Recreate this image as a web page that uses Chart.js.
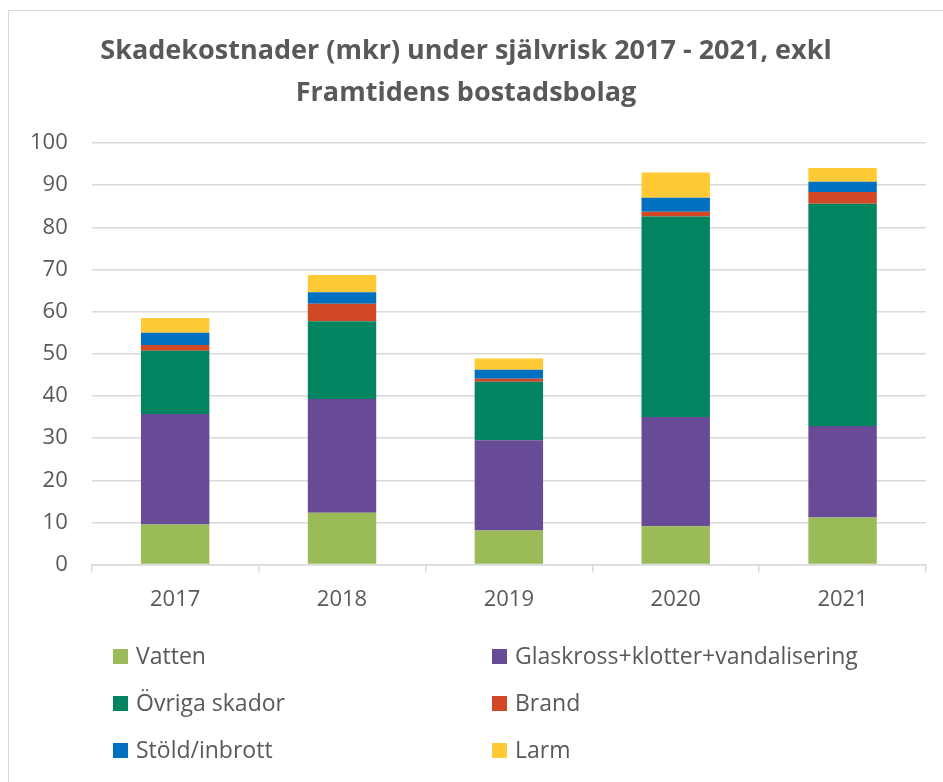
<!DOCTYPE html>
<html>
<head>
<meta charset="utf-8">
<script src="https://cdn.jsdelivr.net/npm/chart.js@4"></script>
<style>
  body { margin: 0; background: #fff; }
  #wrap { position: relative; width: 943px; height: 782px; overflow: hidden; }
  #frame { position: absolute; left: 8px; top: 10px; width: 960px; height: 800px; border: 1px solid #D9D9D9; box-sizing: border-box; }
  #myChart { position: absolute; left: 0; top: 0; }
</style>
</head>
<body>
<div id="wrap">
  <div id="frame"></div>
  <canvas id="myChart" width="943" height="782"></canvas>
</div>
<script>
const ctx = document.getElementById('myChart');

const years = ['2017', '2018', '2019', '2020', '2021'];
const vatten = [9.5, 12.3, 8.1, 9.1, 11.2];
const glaskross = [26.2, 27.0, 21.4, 25.9, 21.7];
const ovriga = [15.0, 18.4, 13.9, 47.6, 52.7];
const brand = [1.4, 4.2, 0.7, 1.1, 2.8];
const stold = [2.9, 2.7, 2.1, 3.3, 2.4];
const larm = [3.5, 4.1, 2.7, 6.0, 3.3];
const yTicks = [0, 10, 20, 30, 40, 50, 60, 70, 80, 90, 100];

const grey = '#595959';
const fontFam = '"Open Sans", sans-serif';

// legend in two columns, drawn under the chart
const twoColLegend = {
  id: 'twoColLegend',
  afterDraw(chart) {
    const c = chart.ctx;
    const sets = chart.data.datasets;
    c.save();
    c.font = '23px ' + fontFam;
    c.textBaseline = 'middle';
    sets.forEach((ds, i) => {
      const col = i % 2;
      const row = Math.floor(i / 2);
      const x = col === 0 ? 113 : 492;
      const y = 656 + row * 47;
      c.fillStyle = ds.backgroundColor;
      c.fillRect(x, y - 7, 15, 15);
      c.fillStyle = grey;
      c.fillText(ds.label, x + 23, y + 1);
    });
    c.restore();
  }
};

let t = {
  type: 'bar',
  data: {
    labels: years,
    datasets: [
      { label: 'Vatten', data: vatten, backgroundColor: '#9BBB59' },
      { label: 'Glaskross+klotter+vandalisering', data: glaskross, backgroundColor: '#674B96' },
      { label: 'Övriga skador', data: ovriga, backgroundColor: '#008560' },
      { label: 'Brand', data: brand, backgroundColor: '#D24726' },
      { label: 'Stöld/inbrott', data: stold, backgroundColor: '#0070C0' },
      { label: 'Larm', data: larm, backgroundColor: '#FFCA35' }
    ]
  },
  options: {
    responsive: false,
    animation: false,
    datasets: {
      bar: { categoryPercentage: 1, barPercentage: 0.41, borderWidth: 0 }
    },
    layout: { padding: { left: 6, right: 17, top: 30, bottom: 155 } },
    scales: {
      x: {
        stacked: true,
        grid: { offset: true, drawOnChartArea: false, tickLength: 8, color: '#D9D9D9', lineWidth: 1.5 },
        border: { color: '#D9D9D9', width: 1.5 },
        ticks: { color: grey, font: { family: fontFam, size: 22 }, padding: 14 }
      },
      y: {
        stacked: true,
        min: 0,
        max: 100,
        afterBuildTicks: axis => { axis.ticks = yTicks.map(v => ({ value: v })); },
        grid: { drawTicks: false, color: '#D9D9D9', lineWidth: 1.5 },
        border: { display: false },
        ticks: { color: grey, font: { family: fontFam, size: 22 }, padding: 24 }
      }
    },
    plugins: {
      legend: { display: false },
      tooltip: { enabled: false },
      title: {
        display: true,
        text: ['Skadekostnader (mkr) under självrisk 2017 - 2021, exkl', 'Framtidens bostadsbolag'],
        color: grey,
        font: { family: fontFam, size: 27, weight: 'bold', lineHeight: 1.556 },
        padding: { top: 0, bottom: 29 }
      }
    }
  },
  plugins: [twoColLegend]
};

let cc = new Chart(ctx, t);
</script>
</body>
</html>
